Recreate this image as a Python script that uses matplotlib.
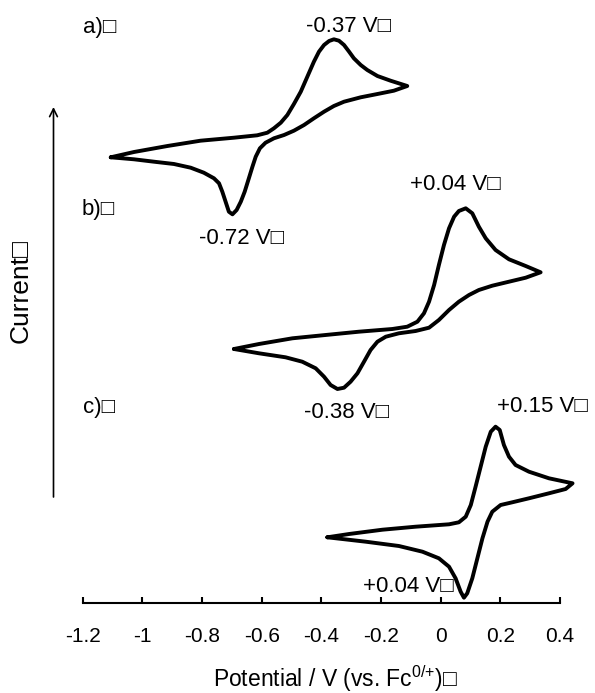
import matplotlib
matplotlib.use("Agg")
import matplotlib.pyplot as plt

plt.rcParams['font.family'] = ['Liberation Sans', 'DejaVu Sans']
plt.rcParams['mathtext.fontset'] = 'custom'
plt.rcParams['mathtext.rm'] = 'Liberation Sans'
plt.rcParams['mathtext.default'] = 'rm'

# CV traces: potential (V) and current (arb. units, relative to start)
E_a = [-1.106, -1.028, -0.916, -0.805, -0.693, -0.615, -0.581, -0.559, -0.536, -0.514,
       -0.492, -0.469, -0.447, -0.425, -0.408, -0.391, -0.374, -0.358, -0.341, -0.324,
       -0.307, -0.291, -0.268, -0.246, -0.212, -0.168, -0.112,
       -0.157, -0.212, -0.268, -0.324, -0.358, -0.391, -0.425, -0.458, -0.492, -0.525,
       -0.559, -0.587, -0.606, -0.620, -0.631, -0.643, -0.657, -0.670, -0.684, -0.698,
       -0.710, -0.721, -0.732, -0.743, -0.760, -0.794, -0.838, -0.894, -0.961, -1.028, -1.106]
I_a = [0, 5.3, 11.3, 16.6, 19.6, 22, 24.6, 29, 34.6, 42.3,
       53.3, 65.6, 80.6, 95.6, 105.6, 112.3, 116.3, 118, 116.6, 112.3,
       105.6, 99, 92.3, 87.3, 81.3, 76.6, 71.3,
       66.6, 63.3, 60, 55.6, 51.3, 45.6, 39, 32.3, 26.6, 22.3,
       19, 14.6, 9, 0.6, -9.4, -21, -34.4, -44.4, -52.7, -57,
       -54.4, -44.4, -34.4, -26, -21, -15.4, -10.4, -6.7, -4.4, -2, 0]

E_b = [-0.693, -0.609, -0.497, -0.386, -0.274, -0.162, -0.112, -0.078, -0.056, -0.039,
       -0.022, -0.006, 0.011, 0.028, 0.045, 0.061, 0.084, 0.106, 0.128, 0.151,
       0.184, 0.229, 0.285, 0.335,
       0.285, 0.229, 0.173, 0.128, 0.095, 0.061, 0.028, -0.006, -0.039, -0.084,
       -0.140, -0.184, -0.212, -0.235, -0.257, -0.279, -0.302, -0.324, -0.346, -0.369,
       -0.391, -0.419, -0.464, -0.520, -0.609, -0.693]
I_b = [0, 5, 10.7, 14, 17.3, 20, 22.3, 27.3, 35.7, 47.3,
       64, 84, 104, 120.7, 132.3, 138, 140.7, 135.7, 122.3, 110.7,
       99, 89.7, 83, 76.7,
       71.3, 67.3, 63.3, 59, 54, 47.3, 39, 29, 21.3, 18,
       15.7, 12.3, 7.3, -1, -12.7, -24.3, -32.7, -38.7, -40, -36,
       -27.7, -19.3, -12.7, -8.3, -4.3, 0]

E_c = [-0.380, -0.307, -0.195, -0.084, 0.028, 0.061, 0.084, 0.101, 0.117, 0.134,
       0.151, 0.168, 0.184, 0.198, 0.212, 0.229, 0.251, 0.296, 0.363, 0.442,
       0.419, 0.363, 0.296, 0.240, 0.201, 0.173, 0.157, 0.140, 0.123, 0.106,
       0.089, 0.078, 0.067, 0.050, 0.028, -0.006, -0.061, -0.140, -0.251, -0.380]
I_c = [0, 3.3, 7.6, 10.6, 13, 15, 20.6, 32.3, 50.6, 70.6,
       90.6, 105.6, 110.6, 107.3, 92.3, 80.6, 72.3, 65.6, 59, 54,
       48.3, 44, 39, 35, 32.3, 25.6, 15.6, -1, -21, -41,
       -56, -60.4, -54.4, -41, -29.4, -21, -14.4, -8.7, -4.4, 0]

offsets = [446, 254.3, 66]
traces = [(E_a, I_a), (E_b, I_b), (E_c, I_c)]

ticks = [-1.2, -1.0, -0.8, -0.6, -0.4, -0.2, 0.0, 0.2, 0.4]
tick_labels = ['-1.2', '-1', '-0.8', '-0.6', '-0.4', '-0.2', '0', '0.2', '0.4']

fig = plt.figure(figsize=(5.95, 6.93), dpi=100)
ax = fig.add_axes([82.7 / 595, 1 - 603.3 / 693, (560 - 82.7) / 595, 603.3 / 693])

for (E, I), off in zip(traces, offsets):
    ax.plot(E, [v + off for v in I], color='black', lw=2.8,
            solid_joinstyle='round', solid_capstyle='round', clip_on=False)

ax.set_xlim(-1.2, 0.4)
ax.set_ylim(0, 603.3)
for s in ['left', 'right', 'top']:
    ax.spines[s].set_visible(False)
ax.spines['bottom'].set_linewidth(1.5)
ax.set_yticks([])
ax.set_xticks(ticks)
ax.set_xticklabels(tick_labels)
ax.tick_params(axis='x', direction='in', length=4.5, width=1.5, pad=17, labelsize=15)

fs = 16
box = '\u25a1'
# labels: text, x (px), y (px), alignment
labels = [('a)' + box, 82.7, 27, 'left'),
          ('-0.37 V' + box, 348.5, 27, 'center'),
          ('b)' + box, 81.7, 209, 'left'),
          ('-0.72 V' + box, 241.7, 238, 'center'),
          ('+0.04 V' + box, 455, 184, 'center'),
          ('c)' + box, 82.7, 407, 'left'),
          ('-0.38 V' + box, 347, 412, 'center'),
          ('+0.15 V' + box, 542, 407, 'center'),
          ('+0.04 V' + box, 408, 587, 'center')]
for txt, px, py, ha in labels:
    fig.text(px / 595, 1 - py / 693, txt, ha=ha, va='center', fontsize=fs)

fig.text(20.8 / 595, 1 - 290.8 / 693, 'Current' + box, rotation=90,
         ha='center', va='center', fontsize=19)
fig.text(336 / 595, 1 - 686.5 / 693, r'Potential / V (vs. Fc$^{0/{+}}$)' + box,
         ha='center', va='baseline', fontsize=16.5)

ax.annotate('', xy=(53.5 / 595, 1 - 107 / 693), xycoords='figure fraction',
            xytext=(53.5 / 595, 1 - 497 / 693), textcoords='figure fraction',
            arrowprops=dict(arrowstyle='->', lw=1.2, color='black',
                            mutation_scale=14, shrinkA=0, shrinkB=0))

fig.savefig('out.png', dpi=100)
